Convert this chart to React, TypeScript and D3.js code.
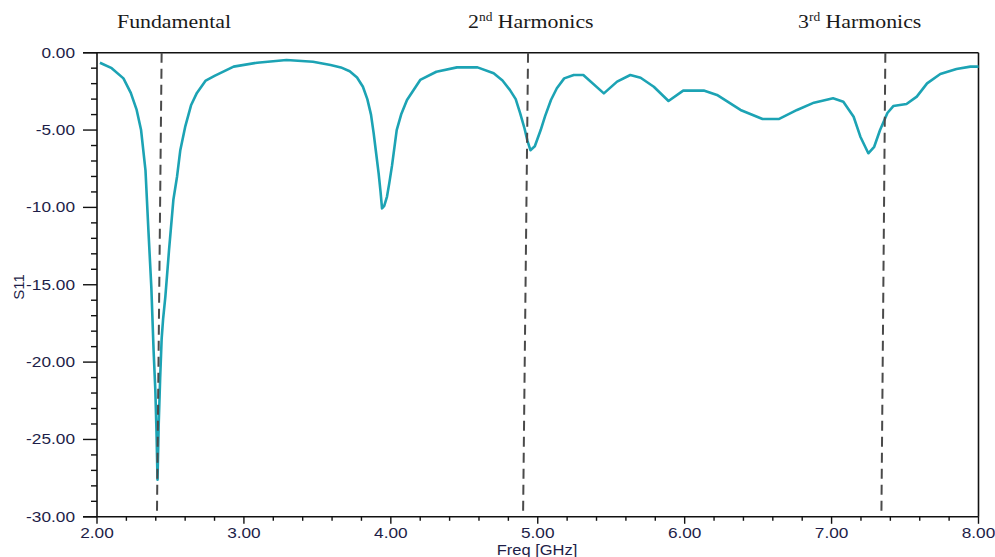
import React from "react";
import * as d3 from "d3";

const freq = [
  2.02, 2.1, 2.18, 2.23, 2.27, 2.3, 2.33, 2.35, 2.37, 2.385, 2.397, 2.405, 2.412,
  2.42, 2.43, 2.44, 2.45, 2.465, 2.49, 2.52, 2.545, 2.567, 2.6, 2.64, 2.68, 2.74,
  2.8, 2.93, 3.09, 3.29, 3.47, 3.59, 3.66, 3.72, 3.77, 3.81, 3.84, 3.865, 3.883, 3.9,
  3.917, 3.93, 3.94, 3.955, 3.974, 3.99, 4.008, 4.04, 4.07, 4.11, 4.2, 4.31, 4.45,
  4.59, 4.7, 4.76, 4.81, 4.85, 4.88, 4.91, 4.93, 4.95, 4.98, 5.02, 5.05, 5.09,
  5.13, 5.18, 5.245, 5.31, 5.45, 5.54, 5.63, 5.7, 5.79, 5.89, 5.99, 6.13, 6.22,
  6.38, 6.53, 6.64, 6.765, 6.88, 7.01, 7.08, 7.15, 7.196, 7.25, 7.29, 7.33, 7.38,
  7.42, 7.51, 7.58, 7.65, 7.74, 7.85, 7.945, 8.0,
];
const s11 = [
  -0.65, -1.0, -1.66, -2.6, -3.7, -5.0, -7.6, -11.5, -15.2, -19.2, -21.8, -24.5, -27.6,
  -24.0, -21.0, -18.5, -17.2, -15.8, -12.8, -9.5, -8.0, -6.3, -4.8, -3.4, -2.6, -1.8,
  -1.5, -0.9, -0.65, -0.47, -0.58, -0.8, -0.95, -1.2, -1.6, -2.2, -3.0, -4.0, -5.2, -6.5,
  -7.8, -9.0, -10.06, -9.9, -9.3, -8.4, -7.3, -5.0, -4.0, -3.06, -1.76, -1.23, -0.95,
  -0.95, -1.33, -1.8, -2.4, -3.0, -3.9, -4.9, -5.7, -6.3, -6.05, -5.0, -4.1, -3.06,
  -2.3, -1.66, -1.44, -1.44, -2.63, -1.87, -1.44, -1.62, -2.2, -3.12, -2.45, -2.45, -2.73,
  -3.7, -4.29, -4.29, -3.7, -3.23, -2.95, -3.17, -4.14, -5.43, -6.5, -6.08, -5.0, -3.9,
  -3.45, -3.32, -2.84, -1.98, -1.38, -1.05, -0.9, -0.9,
];

const xTicks = [2, 3, 4, 5, 6, 7, 8];
const yTicks = [0, -5, -10, -15, -20, -25, -30];
const markerTop = [2.44, 4.934, 7.366];
const markerBottom = [2.408, 4.9, 7.339];

const W = 995;
const H = 557;
const M = { left: 97, right: 978.5, top: 52.7, bottom: 516.8 };

export default function App() {
  const x = d3.scaleLinear().domain([2, 8]).range([M.left, M.right]);
  const y = d3.scaleLinear().domain([0, -30]).range([M.top, M.bottom]);
  const pts: [number, number][] = freq.map((f, i) => [f, s11[i]]);
  const line = d3
    .line<[number, number]>()
    .x((d) => x(d[0]))
    .y((d) => y(d[1]))
    .curve(d3.curveLinear);

  const xMinor = d3.range(2, 8.0001, 0.2).filter((v) => Math.abs(v - Math.round(v)) > 1e-6);
  const yMinor = d3.range(0, -30.0001, -1).filter((v) => Math.abs(v % 5) > 1e-6);

  const tickFont = "'Liberation Sans', Arial, sans-serif";
  const serif = "'Liberation Serif', 'Times New Roman', serif";
  const tickColor = "#1e1e48";

  return (
    <svg width={W} height={H} style={{ position: "absolute", left: 0, top: 0, background: "#fff" }}>
      {/* titles */}
      <g fill="#1a1a1a" fontFamily={serif} fontSize={19.5}>
        <text transform="translate(117,28) scale(1.12,1)">Fundamental</text>
        <text transform="translate(468,28) scale(1.12,1)">
          2<tspan fontSize={12} dy={-7}>nd</tspan>
          <tspan dy={7}> Harmonics</tspan>
        </text>
        <text transform="translate(798,28) scale(1.12,1)">
          3<tspan fontSize={12} dy={-7}>rd</tspan>
          <tspan dy={7}> Harmonics</tspan>
        </text>
      </g>

      {/* frame */}
      <line x1={M.left - 14} x2={M.right} y1={M.top} y2={M.top} stroke="#111" strokeWidth={1.6} />
      <line x1={M.right} x2={M.right} y1={M.top} y2={M.bottom} stroke="#111" strokeWidth={1.6} />
      <line x1={M.left} x2={M.left} y1={M.top} y2={M.bottom} stroke="#111" strokeWidth={1.6} />
      <line x1={M.left - 14} x2={M.right} y1={M.bottom} y2={M.bottom} stroke="#111" strokeWidth={1.6} />

      {/* y ticks */}
      {yTicks.map((v) => (
        <g key={"yt" + v}>
          <line x1={M.left - 14} x2={M.left} y1={y(v)} y2={y(v)} stroke="#111" strokeWidth={1.4} />
          <text
            transform={`translate(75,${y(v) + 5}) scale(1.15,1)`}
            textAnchor="end"
            fontFamily={tickFont}
            fontSize={15}
            fill={tickColor}
          >
            {v.toFixed(2)}
          </text>
        </g>
      ))}
      {yMinor.map((v) => (
        <line key={"ym" + v} x1={M.left - 6} x2={M.left} y1={y(v)} y2={y(v)} stroke="#111" strokeWidth={1.4} />
      ))}

      {/* x ticks */}
      {xTicks.map((v) => (
        <g key={"xt" + v}>
          <line x1={x(v)} x2={x(v)} y1={M.bottom} y2={M.bottom + 7} stroke="#111" strokeWidth={1.4} />
          <text
            transform={`translate(${x(v)},${M.bottom + 21}) scale(1.15,1)`}
            textAnchor="middle"
            fontFamily={tickFont}
            fontSize={15}
            fill={tickColor}
          >
            {v.toFixed(2)}
          </text>
        </g>
      ))}
      {xMinor.map((v) => (
        <line key={"xm" + v} x1={x(v)} x2={x(v)} y1={M.bottom} y2={M.bottom + 4} stroke="#111" strokeWidth={1.4} />
      ))}

      {/* axis titles */}
      <text
        transform={`translate(537,${M.bottom + 38}) scale(1.1,1)`}
        textAnchor="middle"
        fontFamily={tickFont}
        fontSize={15}
        fill={tickColor}
      >
        Freq [GHz]
      </text>
      <text
        transform="translate(24,287) rotate(-90)"
        textAnchor="middle"
        fontFamily={tickFont}
        fontSize={15}
        fill={tickColor}
      >
        S11
      </text>

      {/* curve */}
      <path d={line(pts) || ""} fill="none" stroke="#1ca3b4" strokeWidth={2.6} strokeLinejoin="round" />

      {/* harmonic markers */}
      {markerTop.map((f, i) => (
        <line
          key={"mk" + i}
          x1={x(f)}
          x2={x(markerBottom[i])}
          y1={M.top}
          y2={M.bottom}
          stroke="#4a4a4a"
          strokeWidth={2}
          strokeDasharray="10,6"
        />
      ))}
    </svg>
  );
}
